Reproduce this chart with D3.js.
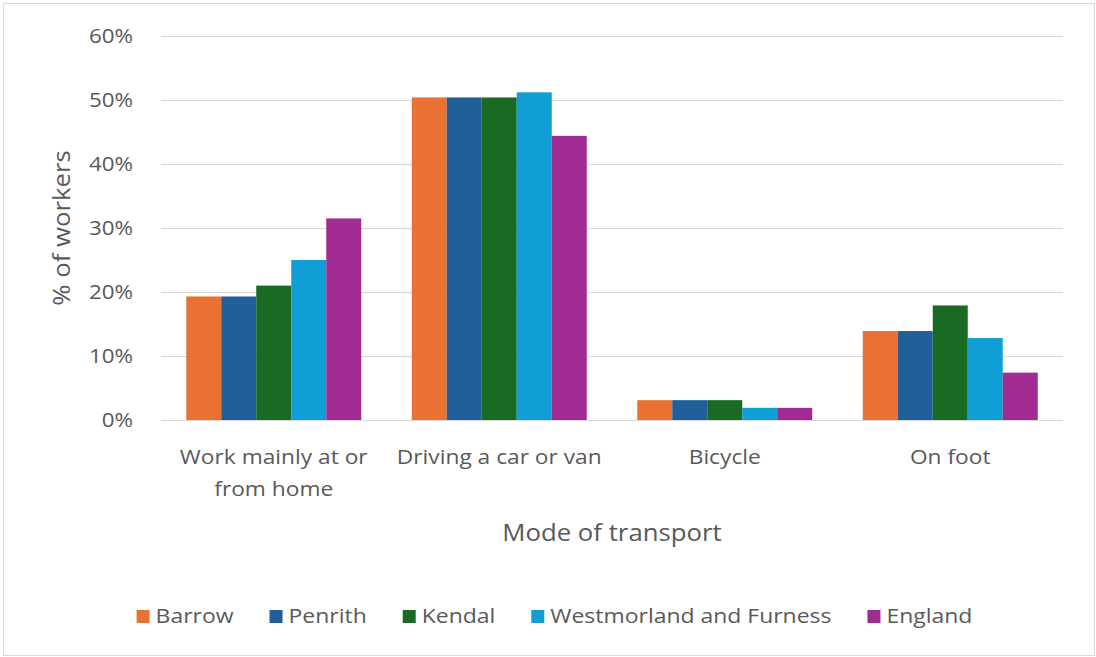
<!DOCTYPE html>
<html>
<head>
<meta charset="utf-8">
<script src="https://cdn.jsdelivr.net/npm/d3@7"></script>
<style>
  html, body { margin: 0; padding: 0; background: #fff; }
  svg text { font-family: "Open Sans", "Noto Sans", sans-serif; fill: #595959; }
</style>
</head>
<body>
<svg id="chart" width="1096" height="657"></svg>
<script>
// Share of workers by main mode of travel to work
const categories = [
  ["Work mainly at or", "from home"],
  ["Driving a car or van"],
  ["Bicycle"],
  ["On foot"]
];
const seriesNames = ["Barrow", "Penrith", "Kendal", "Westmorland and Furness", "England"];
const seriesColors = ["#E97132", "#215F9A", "#196B24", "#0F9ED5", "#A02B93"];

const barrow   = [19.3, 50.4, 3.1, 13.9];
const penrith  = [19.3, 50.4, 3.1, 13.9];
const kendal   = [21.0, 50.4, 3.1, 17.9];
const westFurn = [25.0, 51.2, 1.9, 12.8];
const england  = [31.5, 44.4, 1.9, 7.4];
const seriesValues = [barrow, penrith, kendal, westFurn, england];

const yTicks = [0, 10, 20, 30, 40, 50, 60];
const yTitle = "% of workers";
const xTitle = "Mode of transport";

const W = 1096, H = 657;
const plot = { left: 161, right: 1063, top: 36, bottom: 420 };
const textStretch = 1.12;

const svg = d3.select("#chart");

// outer chart frame
svg.append("rect")
  .attr("x", 3.5).attr("y", 3.5)
  .attr("width", W - 5).attr("height", H - 5)
  .attr("fill", "#fff").attr("stroke", "#d9d9d9").attr("stroke-width", 1);

const catKeys = categories.map((c, i) => i);
const x0 = d3.scaleBand().domain(catKeys).range([plot.left, plot.right])
  .paddingInner(0.224).paddingOuter(0.112);
const x1 = d3.scaleBand().domain(seriesNames).range([0, x0.bandwidth()]).padding(0);
const y = d3.scaleLinear().domain([0, 60]).range([plot.bottom, plot.top]);

// horizontal gridlines and percentage labels
const yAxis = d3.axisLeft(y).tickValues(yTicks)
  .tickSize(-(plot.right - plot.left)).tickPadding(28)
  .tickFormat(d => d + "%");
const gy = svg.append("g").attr("transform", `translate(${plot.left},0)`).call(yAxis);
gy.select(".domain").remove();
gy.selectAll(".tick line").attr("stroke", "#d9d9d9").attr("stroke-width", 1.2);
gy.selectAll(".tick text")
  .style("font-size", "20px").attr("fill", "#595959")
  .attr("transform", function () {
    const xx = +d3.select(this).attr("x");
    return `translate(${xx * (1 - textStretch)},0) scale(${textStretch},1)`;
  });

// bars
const groups = svg.append("g").selectAll("g")
  .data(catKeys).join("g")
  .attr("transform", d => `translate(${x0(d)},0)`);
groups.selectAll("rect")
  .data(ci => seriesNames.map((name, si) => ({ name, si, v: seriesValues[si][ci] })))
  .join("rect")
  .attr("x", d => x1(d.name))
  .attr("width", x1.bandwidth())
  .attr("y", d => y(d.v))
  .attr("height", d => y(0) - y(d.v))
  .attr("fill", d => seriesColors[d.si]);

// helper: horizontally widened text centred on (cx, baseline)
function label(parent, txt, cx, cy, size, anchor) {
  return parent.append("text")
    .attr("transform", `translate(${cx},${cy}) scale(${textStretch},1)`)
    .attr("text-anchor", anchor || "middle")
    .style("font-size", size + "px")
    .text(txt);
}

// category labels
const gx = svg.append("g");
categories.forEach((lines, i) => {
  const cx = x0(i) + x0.bandwidth() / 2;
  lines.forEach((ln, j) => label(gx, ln, cx, 464 + j * 32, 20.3));
});

// axis titles
label(svg, xTitle, (plot.left + plot.right) / 2, 541, 23);
svg.append("text")
  .attr("transform", `translate(70,${(plot.top + plot.bottom) / 2}) rotate(-90) scale(${textStretch},1)`)
  .attr("text-anchor", "middle")
  .style("font-size", "23px")
  .text(yTitle);

// legend, laid out from measured text widths and centred
const legend = svg.append("g");
const items = seriesNames.map((name, i) => {
  const g = legend.append("g");
  g.append("rect").attr("x", 0).attr("y", -13).attr("width", 13).attr("height", 13)
    .attr("fill", seriesColors[i]);
  const t = g.append("text").attr("transform", `translate(19,0) scale(${textStretch},1)`)
    .style("font-size", "20.5px").text(name);
  const w = 19 + t.node().getComputedTextLength() * textStretch;
  return { g, w };
});
const gap = 36;
const total = d3.sum(items, d => d.w) + gap * (items.length - 1);
let lx = 554.5 - total / 2;
items.forEach(it => {
  it.g.attr("transform", `translate(${lx},623)`);
  lx += it.w + gap;
});
</script>
</body>
</html>
